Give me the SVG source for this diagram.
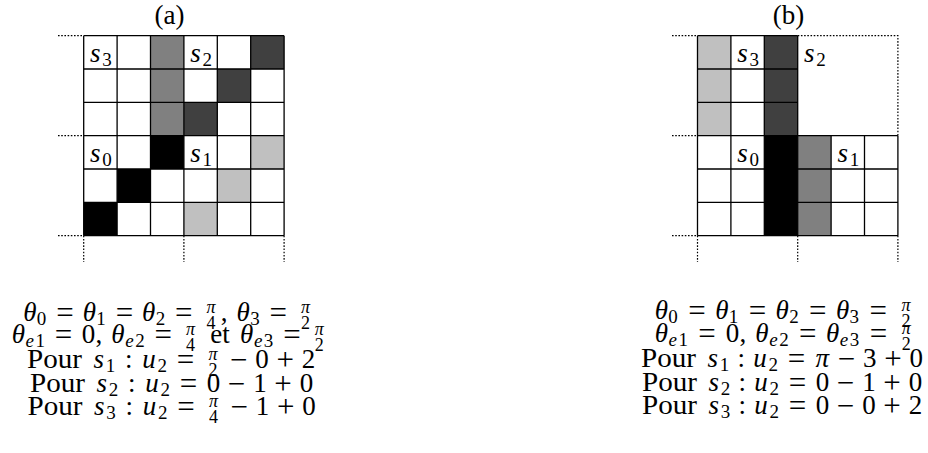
<svg xmlns="http://www.w3.org/2000/svg" width="928" height="453" viewBox="0 0 928 453">
<style>
.t{font-family:"Liberation Serif","DejaVu Serif",serif;font-size:27px;fill:#000}
.c{text-anchor:middle}
.i{font-style:italic}
.s{font-size:19px}
.f{font-size:18px}
.o{font-size:31px}
.grid{stroke:#000;stroke-width:1.3;fill:none}
.dot{stroke:#000;stroke-width:1.2;stroke-dasharray:1.6 1.6;fill:none}
.g1{fill:#c0c0c0}.g2{fill:#808080}.g3{fill:#404040}.g4{fill:#000}
</style>
<rect width="928" height="453" fill="#fff"/>
<g id="title-a"><text class="t c" x="169.5" y="23.5">(a)</text></g>
<g id="title-b"><text class="t c" x="788.5" y="23.5">(b)</text></g>
<g id="grid-a">
<rect class="g2" x="150.5" y="35.7" width="33.4" height="100"/>
<rect class="g3" x="250.7" y="35.7" width="33.4" height="33.3"/>
<rect class="g3" x="217.3" y="69" width="33.4" height="33.4"/>
<rect class="g3" x="183.9" y="102.4" width="33.4" height="33.3"/>
<rect class="g4" x="150.5" y="135.7" width="33.4" height="33.3"/>
<rect class="g4" x="117.1" y="169" width="33.4" height="33.4"/>
<rect class="g4" x="83.7" y="202.4" width="33.4" height="33.3"/>
<rect class="g1" x="250.7" y="135.7" width="33.4" height="33.3"/>
<rect class="g1" x="217.3" y="169" width="33.4" height="33.4"/>
<rect class="g1" x="183.9" y="202.4" width="33.4" height="33.3"/>
<path class="grid" d="M83.7 35.7V235.7M117.1 35.7V235.7M150.5 35.7V235.7M183.9 35.7V235.7M217.3 35.7V235.7M250.7 35.7V235.7M284.1 35.7V235.7M83.7 35.7H284.1M83.7 69H284.1M83.7 102.4H284.1M83.7 135.7H284.1M83.7 169H284.1M83.7 202.4H284.1M83.7 235.7H284.1"/>
<path class="dot" d="M58 35.7H83.7M58 135.7H83.7M58 235.7H83.7M83.7 235.7V262M183.9 235.7V262M284.1 235.7V262"/>
<text class="t c"><tspan class="i" x="95.3" y="61.7">s</tspan><tspan class="s" x="107.1" y="65.7">3</tspan></text>
<text class="t c"><tspan class="i" x="195.5" y="61.7">s</tspan><tspan class="s" x="207.3" y="65.7">2</tspan></text>
<text class="t c"><tspan class="i" x="95.3" y="161.7">s</tspan><tspan class="s" x="107.1" y="165.7">0</tspan></text>
<text class="t c"><tspan class="i" x="195.5" y="161.7">s</tspan><tspan class="s" x="207.3" y="165.7">1</tspan></text>
</g>
<g id="grid-b">
<rect class="g1" x="697.5" y="35.7" width="33.4" height="100"/>
<rect class="g3" x="764.3" y="35.7" width="33.4" height="100"/>
<rect class="g4" x="764.3" y="135.7" width="33.4" height="100"/>
<rect class="g2" x="797.7" y="135.7" width="33.4" height="100"/>
<path class="grid" d="M697.5 35.7V235.7M730.9 35.7V235.7M764.3 35.7V235.7M797.7 35.7V235.7M831.1 135.7V235.7M864.5 135.7V235.7M897.9 135.7V235.7M697.5 35.7H797.7M697.5 69H797.7M697.5 102.4H797.7M697.5 135.7H897.9M697.5 169H897.9M697.5 202.4H897.9M697.5 235.7H897.9"/>
<path class="dot" d="M672 35.7H697.5M672 135.7H697.5M672 235.7H697.5M797.7 35.7H897.9V135.7M697.5 235.7V262M797.7 235.7V262M897.9 235.7V262"/>
<text class="t c"><tspan class="i" x="742.5" y="61.7">s</tspan><tspan class="s" x="754.3" y="65.7">3</tspan></text>
<text class="t c"><tspan class="i" x="809.3" y="61.7">s</tspan><tspan class="s" x="821.1" y="65.7">2</tspan></text>
<text class="t c"><tspan class="i" x="742.5" y="161.7">s</tspan><tspan class="s" x="754.3" y="165.7">0</tspan></text>
<text class="t c"><tspan class="i" x="842.7" y="161.7">s</tspan><tspan class="s" x="854.5" y="165.7">1</tspan></text>
</g>
<g id="caption-a">
<text class="t c"><tspan class="i" x="29.8" y="321">θ</tspan><tspan class="s" x="41.5" y="325">0</tspan><tspan class="o" x="64.9" y="322.5">=</tspan><tspan class="i" x="89.3" y="321">θ</tspan><tspan class="s" x="101" y="325">1</tspan><tspan class="o" x="124.4" y="322.5">=</tspan><tspan class="i" x="148.7" y="321">θ</tspan><tspan class="s" x="160.4" y="325">2</tspan><tspan class="o" x="183.8" y="322.5">=</tspan><tspan class="i f" x="211.1" y="312.5">π</tspan><tspan class="f" x="211.1" y="329">4</tspan><tspan x="224.1" y="321">,</tspan><tspan class="i" x="243.2" y="321">θ</tspan><tspan class="s" x="254.9" y="325">3</tspan><tspan class="o" x="278.3" y="322.5">=</tspan><tspan class="i f" x="305.5" y="312.5">π</tspan><tspan class="f" x="305.5" y="329">2</tspan></text>
<text class="t c"><tspan class="i" x="18.3" y="343">θ</tspan><tspan class="i s" x="29.8" y="347">e</tspan><tspan class="s" x="40.3" y="347">1</tspan><tspan class="o" x="63.6" y="344.5">=</tspan><tspan x="88.4" y="343">0</tspan><tspan x="98.9" y="343">,</tspan><tspan class="i" x="118" y="343">θ</tspan><tspan class="i s" x="129.4" y="347">e</tspan><tspan class="s" x="139.9" y="347">2</tspan><tspan class="o" x="163.3" y="344.5">=</tspan><tspan class="i f" x="190.5" y="334.5">π</tspan><tspan class="f" x="190.5" y="351">4</tspan><tspan x="220.1" y="343">et</tspan><tspan class="i" x="246.6" y="343">θ</tspan><tspan class="i s" x="258.1" y="347">e</tspan><tspan class="s" x="268.6" y="347">3</tspan><tspan class="o" x="291.9" y="344.5">=</tspan><tspan class="i f" x="319.2" y="334.5">π</tspan><tspan class="f" x="319.2" y="351">2</tspan></text>
<text class="t" x="27" y="368" textLength="55" lengthAdjust="spacingAndGlyphs">Pour</text>
<text class="t c"><tspan class="i" x="98.8" y="368">s</tspan><tspan class="s" x="110.5" y="372">1</tspan><tspan x="128.7" y="368">:</tspan><tspan class="i" x="149.1" y="368">u</tspan><tspan class="s" x="162.3" y="372">2</tspan><tspan class="o" x="185.6" y="369.5">=</tspan><tspan class="i f" x="212.9" y="359.5">π</tspan><tspan class="f" x="212.9" y="376">2</tspan><tspan class="o" x="238.7" y="369.5">−</tspan><tspan x="261.9" y="368">0</tspan><tspan class="o" x="285.2" y="369.5">+</tspan><tspan x="308.4" y="368">2</tspan></text>
<text class="t" x="30" y="392" textLength="55" lengthAdjust="spacingAndGlyphs">Pour</text>
<text class="t c"><tspan class="i" x="101.8" y="392">s</tspan><tspan class="s" x="113.5" y="396">2</tspan><tspan x="131.7" y="392">:</tspan><tspan class="i" x="152.1" y="392">u</tspan><tspan class="s" x="165.3" y="396">2</tspan><tspan class="o" x="188.6" y="393.5">=</tspan><tspan x="213.4" y="392">0</tspan><tspan class="o" x="236.6" y="393.5">−</tspan><tspan x="259.9" y="392">1</tspan><tspan class="o" x="283.1" y="393.5">+</tspan><tspan x="306.4" y="392">0</tspan></text>
<text class="t" x="27.5" y="415" textLength="55" lengthAdjust="spacingAndGlyphs">Pour</text>
<text class="t c"><tspan class="i" x="99.3" y="415">s</tspan><tspan class="s" x="111" y="419">3</tspan><tspan x="129.2" y="415">:</tspan><tspan class="i" x="149.6" y="415">u</tspan><tspan class="s" x="162.8" y="419">2</tspan><tspan class="o" x="186.1" y="416.5">=</tspan><tspan class="i f" x="213.4" y="406.5">π</tspan><tspan class="f" x="213.4" y="423">4</tspan><tspan class="o" x="239.2" y="416.5">−</tspan><tspan x="262.4" y="415">1</tspan><tspan class="o" x="285.7" y="416.5">+</tspan><tspan x="308.9" y="415">0</tspan></text>
</g>
<g id="caption-b">
<text class="t c"><tspan class="i" x="661.3" y="319">θ</tspan><tspan class="s" x="673.1" y="323">0</tspan><tspan class="o" x="696.9" y="320.5">=</tspan><tspan class="i" x="721.8" y="319">θ</tspan><tspan class="s" x="733.5" y="323">1</tspan><tspan class="o" x="757.4" y="320.5">=</tspan><tspan class="i" x="782.2" y="319">θ</tspan><tspan class="s" x="793.9" y="323">2</tspan><tspan class="o" x="817.8" y="320.5">=</tspan><tspan class="i" x="842.6" y="319">θ</tspan><tspan class="s" x="854.3" y="323">3</tspan><tspan class="o" x="878.2" y="320.5">=</tspan><tspan class="i f" x="906" y="310.5">π</tspan><tspan class="f" x="906" y="327">2</tspan></text>
<text class="t c"><tspan class="i" x="661.3" y="342">θ</tspan><tspan class="i s" x="672.8" y="346">e</tspan><tspan class="s" x="683.3" y="346">1</tspan><tspan class="o" x="707.1" y="343.5">=</tspan><tspan x="732.4" y="342">0</tspan><tspan x="742.9" y="342">,</tspan><tspan class="i" x="762" y="342">θ</tspan><tspan class="i s" x="773.4" y="346">e</tspan><tspan class="s" x="783.9" y="346">2</tspan><tspan class="o" x="807.8" y="343.5">=</tspan><tspan class="i" x="832.6" y="342">θ</tspan><tspan class="i s" x="844" y="346">e</tspan><tspan class="s" x="854.5" y="346">3</tspan><tspan class="o" x="878.4" y="343.5">=</tspan><tspan class="i f" x="906.2" y="333.5">π</tspan><tspan class="f" x="906.2" y="350">2</tspan></text>
<text class="t" x="641" y="367" textLength="55" lengthAdjust="spacingAndGlyphs">Pour</text>
<text class="t c"><tspan class="i" x="712.8" y="367">s</tspan><tspan class="s" x="724.5" y="371">1</tspan><tspan x="741.2" y="367">:</tspan><tspan class="i" x="760.1" y="367">u</tspan><tspan class="s" x="773.3" y="371">2</tspan><tspan class="o" x="796.6" y="368.5">=</tspan><tspan class="i" x="822.3" y="367">π</tspan><tspan class="o" x="846.5" y="368.5">−</tspan><tspan x="869.8" y="367">3</tspan><tspan class="o" x="893" y="368.5">+</tspan><tspan x="916.3" y="367">0</tspan></text>
<text class="t" x="642" y="391" textLength="55" lengthAdjust="spacingAndGlyphs">Pour</text>
<text class="t c"><tspan class="i" x="713.8" y="391">s</tspan><tspan class="s" x="725.5" y="395">2</tspan><tspan x="742.2" y="391">:</tspan><tspan class="i" x="761.1" y="391">u</tspan><tspan class="s" x="774.3" y="395">2</tspan><tspan class="o" x="797.6" y="392.5">=</tspan><tspan x="822.4" y="391">0</tspan><tspan class="o" x="845.6" y="392.5">−</tspan><tspan x="868.9" y="391">1</tspan><tspan class="o" x="892.1" y="392.5">+</tspan><tspan x="915.4" y="391">0</tspan></text>
<text class="t" x="642" y="414" textLength="55" lengthAdjust="spacingAndGlyphs">Pour</text>
<text class="t c"><tspan class="i" x="713.8" y="414">s</tspan><tspan class="s" x="725.5" y="418">3</tspan><tspan x="742.2" y="414">:</tspan><tspan class="i" x="761.1" y="414">u</tspan><tspan class="s" x="774.3" y="418">2</tspan><tspan class="o" x="797.6" y="415.5">=</tspan><tspan x="822.4" y="414">0</tspan><tspan class="o" x="845.6" y="415.5">−</tspan><tspan x="868.9" y="414">0</tspan><tspan class="o" x="892.1" y="415.5">+</tspan><tspan x="915.4" y="414">2</tspan></text>
</g>
</svg>
